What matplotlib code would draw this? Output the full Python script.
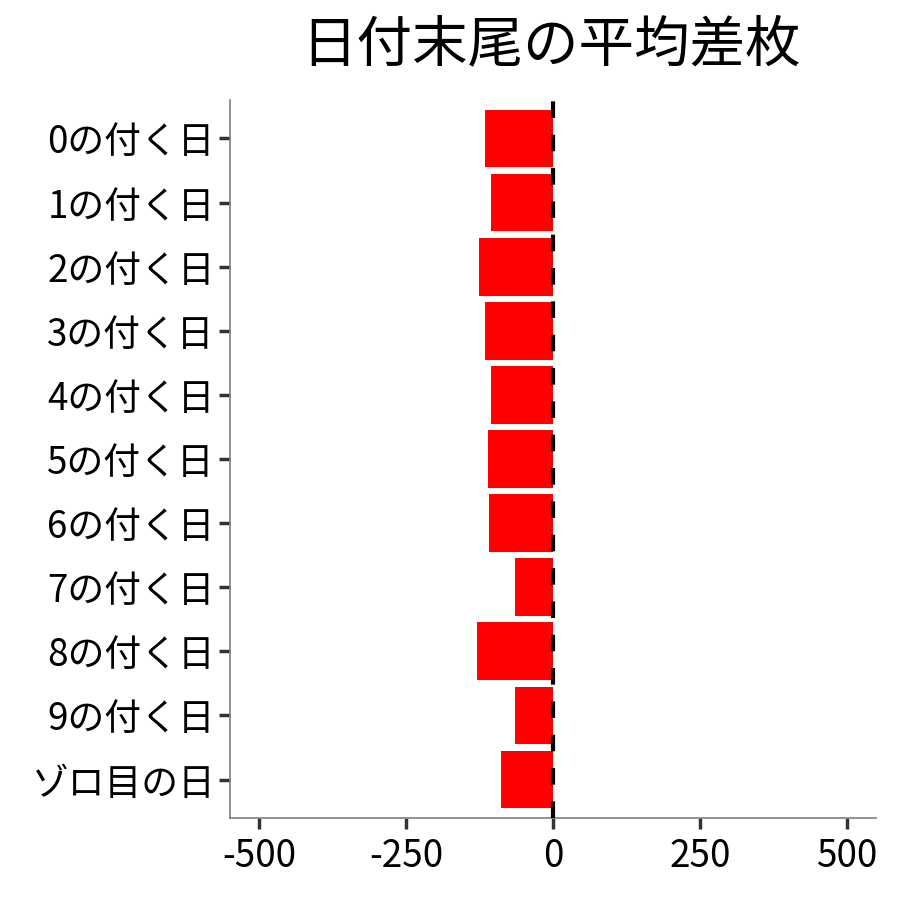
import matplotlib
matplotlib.use('Agg')
import matplotlib.pyplot as plt

plt.rcParams['font.family'] = ['Noto Sans CJK JP', 'DejaVu Sans']

# 日付末尾ごとの平均差枚
categories = ['0の付く日', '1の付く日', '2の付く日', '3の付く日', '4の付く日',
              '5の付く日', '6の付く日', '7の付く日', '8の付く日', '9の付く日',
              'ゾロ目の日']
values = [-116, -106, -125, -116, -106, -110, -108, -65, -130, -65, -89]
xticks = [-500, -250, 0, 250, 500]

fig = plt.figure(figsize=(9, 9), dpi=100)
ax = fig.add_axes([230 / 900, 82 / 900, 646 / 900, 718 / 900])

ypos = list(range(len(categories)))
ax.barh(ypos, values, height=0.9, color='#ff0000', zorder=2)
ax.axvline(0, color='black', linewidth=3, linestyle=(0, (4, 4)), zorder=3)

ax.set_xlim(-549, 549)
ax.set_ylim(len(categories) - 0.4, -0.6)
ax.set_yticks(ypos)
ax.set_yticklabels(categories)
ax.set_xticks(xticks)
ax.set_xticklabels([str(v) for v in xticks])

for side in ['top', 'right']:
    ax.spines[side].set_visible(False)
for side in ['left', 'bottom']:
    ax.spines[side].set_color('#808080')
    ax.spines[side].set_linewidth(1.2)

ax.tick_params(axis='both', labelsize=26.5, colors='#333333', length=8, width=2.5,
               labelcolor='black')
ax.tick_params(axis='y', pad=3)
ax.tick_params(axis='x', pad=6)

fig.text(551 / 900, 1 - 45 / 900, '日付末尾の平均差枚', fontsize=40,
         ha='center', va='center')

fig.savefig('out.png', dpi=100)
